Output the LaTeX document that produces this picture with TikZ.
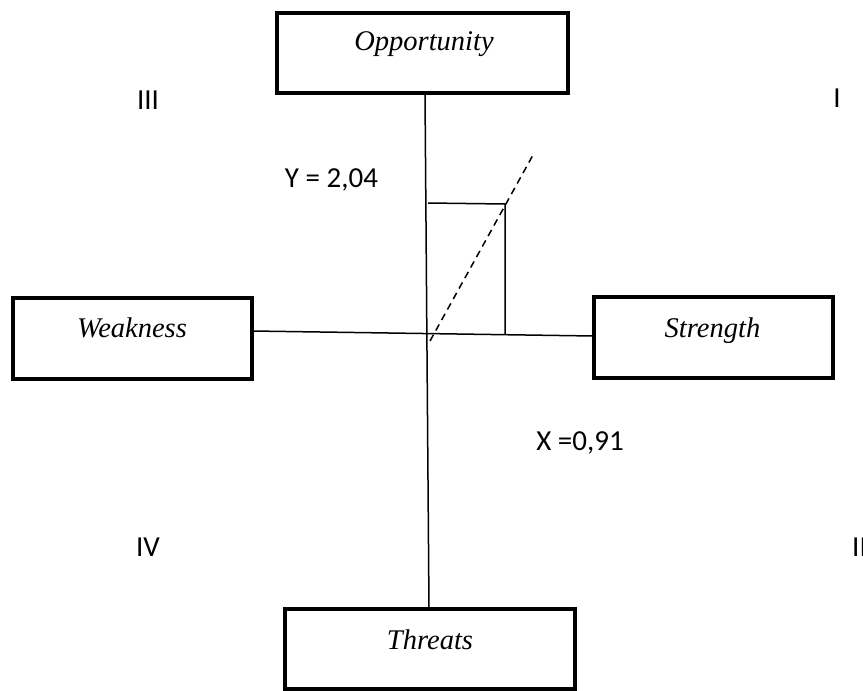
\documentclass[tikz,border=0pt]{standalone}
\usepackage{fontspec}
\setmainfont{Liberation Serif}
\newfontfamily\calibri{Carlito}
\begin{document}
\begin{tikzpicture}[x=1pt,y=-1pt,
  boxstyle/.style={draw,line width=4.3pt,rectangle,inner sep=0pt,outer sep=0pt},
  boxtext/.style={anchor=base,inner sep=0pt,font=\fontsize{28.5}{34}\selectfont\itshape},
  lbl/.style={anchor=base,inner sep=0pt,font=\calibri\fontsize{29}{35}\selectfont},
  axis/.style={line width=1.5pt},
  proj/.style={line width=1.5pt},
  vec/.style={line width=1.5pt,dash pattern=on 7pt off 5pt}]
\useasboundingbox (0,0) rectangle (863,691);
% boxes
\node[boxstyle,minimum width=291pt,minimum height=80pt] (opp) at (422.5,53) {};
\node[boxstyle,minimum width=239pt,minimum height=81pt] (weak) at (132.5,338.5) {};
\node[boxstyle,minimum width=239pt,minimum height=81pt] (str) at (713.5,337.5) {};
\node[boxstyle,minimum width=290pt,minimum height=80pt] (thr) at (430,649) {};
% box texts
\node[boxtext] (toppt) at (424,50) {Opportunity};
\node[boxtext] (tweak) at (132,337) {Weakness};
\node[boxtext] (tstr) at (712.5,337) {Strength};
\node[boxtext] (tthr) at (430,649) {Threats};
% axes
\draw[axis] ([xshift=2.5pt]opp.south) -- ([xshift=-1pt]thr.north);
\draw[axis] ([yshift=7.5pt]weak.east) -- ([yshift=1.5pt]str.west);
% projection
\coordinate (c) at (428,334);
\coordinate (yp) at (428,203);
\coordinate (p) at (505,204);
\coordinate (xp) at (505,334);
\coordinate (e) at (533,155);
\draw[proj] (yp) -- (p) -- (xp);
\draw[vec] ([shift={(2pt,-7pt)}]c) -- (e);
% labels
\node[lbl] (ylbl) at (331.5,187) {Y = 2,04};
\node[lbl] (xlbl) at (580,450) {X =0,91};
\node[lbl] (q3) at (148,109) {III};
\node[lbl] (q1) at (837,107) {I};
\node[lbl] (q4) at (148,556) {IV};
\node[lbl,anchor=base west] (q2) at (852,556) {II};
\end{tikzpicture}
\end{document}
